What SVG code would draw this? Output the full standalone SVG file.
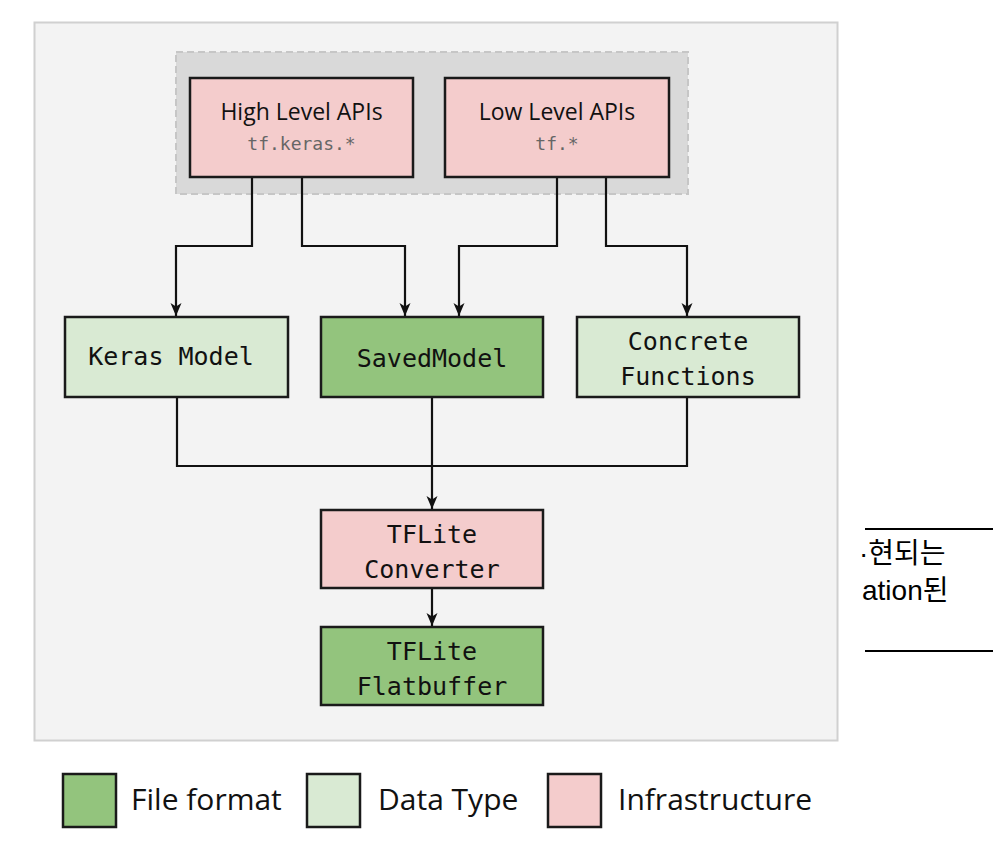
<svg xmlns="http://www.w3.org/2000/svg" width="993" height="841" viewBox="0 0 993 841">
<style>
.node{stroke:#1a1a1a;stroke-width:2.5}
.pink{fill:#f4cccc}
.lg{fill:#d9ead3}
.dg{fill:#93c47d}
.mono{font-family:"DejaVu Sans Mono",monospace;font-size:25px;fill:#111;text-anchor:middle}
.sans{font-family:"Open Sans","Noto Sans",sans-serif;fill:#111}
.sub{font-family:"DejaVu Sans Mono",monospace;font-size:18px;fill:#666;text-anchor:middle}
.conn{fill:none;stroke:#111;stroke-width:2.2}
</style>
<defs>
<marker id="arr" markerUnits="userSpaceOnUse" markerWidth="14" markerHeight="14" viewBox="0 0 14 14" refX="13" refY="7" orient="auto">
<path d="M0,1.5 L13,7 L0,12.5 L3.5,7 z" fill="#111"/>
</marker>
</defs>
<rect x="0" y="0" width="993" height="841" fill="#ffffff"/>
<rect id="frame" x="34.5" y="22.5" width="803" height="718" fill="#f3f3f3" stroke="#d0d0d0" stroke-width="2"/>
<rect id="api-group" x="176" y="52" width="512" height="142" fill="#d9d9d9" stroke="#c6c6c6" stroke-width="2" stroke-dasharray="7,4"/>

<g id="connectors">
<path class="conn" d="M252,177 V246 H176 V316" marker-end="url(#arr)"/>
<path class="conn" d="M302,177 V246 H405 V316" marker-end="url(#arr)"/>
<path class="conn" d="M557,177 V246 H459 V316" marker-end="url(#arr)"/>
<path class="conn" d="M606,177 V246 H687 V316" marker-end="url(#arr)"/>
<path class="conn" d="M177,397 V466 H687 V397"/>
<path class="conn" d="M432,397 V509" marker-end="url(#arr)"/>
<path class="conn" d="M432,588 V626" marker-end="url(#arr)"/>
</g>

<g id="high-level-apis">
<rect class="node pink" x="190" y="78" width="223" height="99"/>
<text class="sans" x="301.5" y="120" font-size="23" text-anchor="middle">High Level APIs</text>
<text class="sub" x="301.5" y="150">tf.keras.*</text>
</g>
<g id="low-level-apis">
<rect class="node pink" x="445" y="78" width="224" height="99"/>
<text class="sans" x="557" y="120" font-size="23" text-anchor="middle">Low Level APIs</text>
<text class="sub" x="557" y="150">tf.*</text>
</g>

<g id="keras-model">
<rect class="node lg" x="65" y="317" width="223" height="80"/>
<text class="mono" x="171" y="365" font-size="26">Keras Model</text>
</g>
<g id="saved-model">
<rect class="node dg" x="321" y="317" width="222" height="80"/>
<text class="mono" x="432" y="367">SavedModel</text>
</g>
<g id="concrete-functions">
<rect class="node lg" x="577" y="317" width="222" height="80"/>
<text class="mono" x="688" y="350">Concrete</text>
<text class="mono" x="688" y="385">Functions</text>
</g>
<g id="tflite-converter">
<rect class="node pink" x="321" y="510" width="222" height="78"/>
<text class="mono" x="432" y="543">TFLite</text>
<text class="mono" x="432" y="578">Converter</text>
</g>
<g id="tflite-flatbuffer">
<rect class="node dg" x="321" y="627" width="222" height="78"/>
<text class="mono" x="432" y="660">TFLite</text>
<text class="mono" x="432" y="695">Flatbuffer</text>
</g>

<g id="legend">
<rect class="node dg" x="63" y="774" width="53" height="53"/>
<text class="sans" x="131" y="810" font-size="30">File format</text>
<rect class="node lg" x="307" y="774" width="53" height="53"/>
<text class="sans" x="378" y="810" font-size="30">Data Type</text>
<rect class="node pink" x="548" y="774" width="53" height="53"/>
<text class="sans" x="618" y="810" font-size="30">Infrastructure</text>
</g>

<g id="side-fragment">
<line x1="865" y1="529" x2="993" y2="529" stroke="#000" stroke-width="2"/>
<line x1="865" y1="651" x2="993" y2="651" stroke="#000" stroke-width="2"/>
<text x="859" y="563" font-family="Liberation Sans,'Noto Sans CJK KR',sans-serif" font-size="28" fill="#000">·현되는</text>
<text x="862" y="600" font-family="Liberation Sans,'Noto Sans CJK KR',sans-serif" font-size="28" fill="#000">ation된</text>
</g>
</svg>
